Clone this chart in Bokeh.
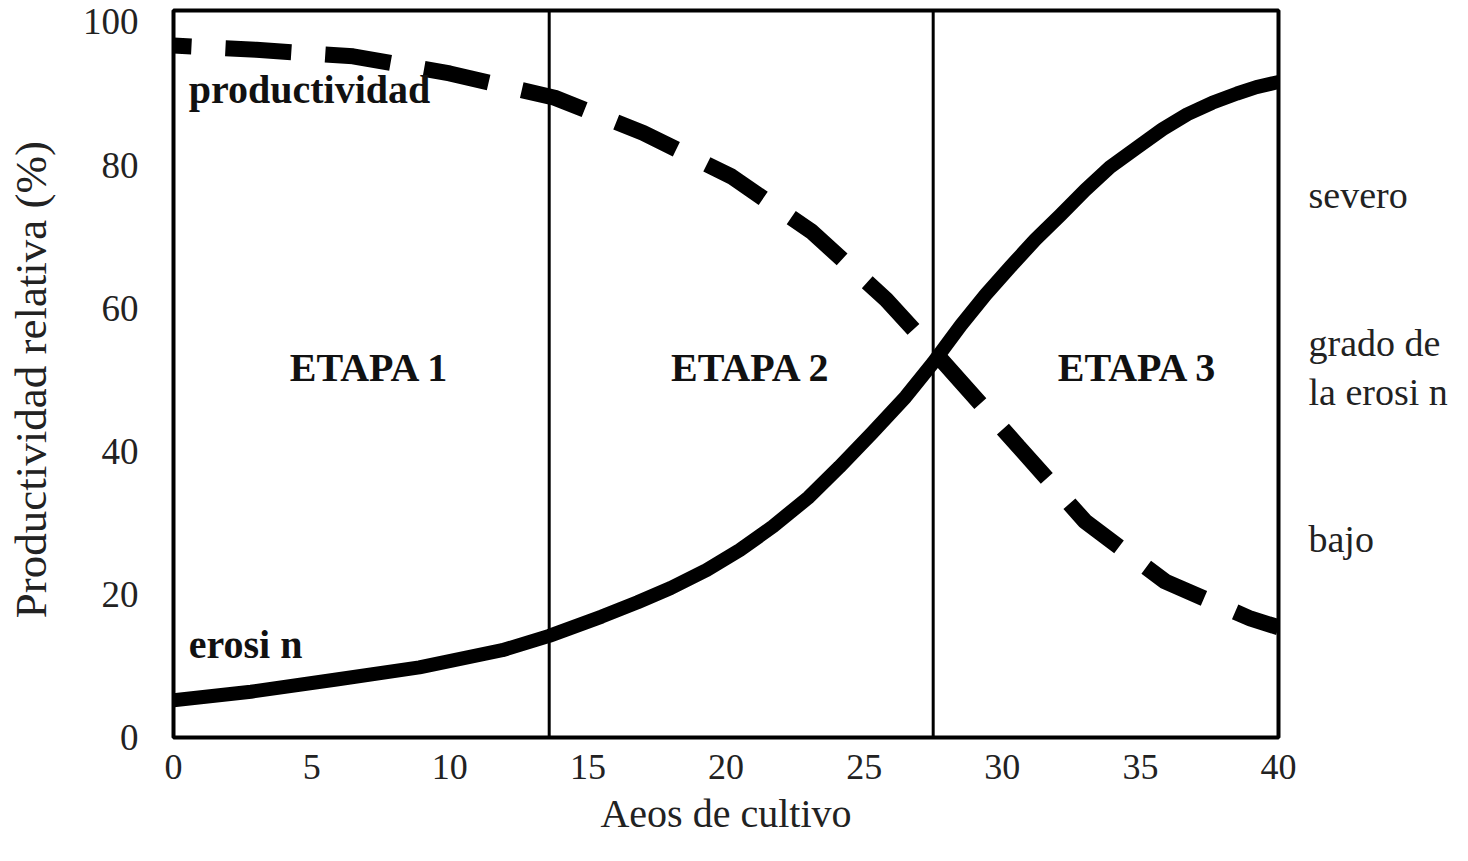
from bokeh.plotting import figure
from bokeh.models import Span, Label, Range1d, FixedTicker, LinearAxis
from bokeh.embed import file_html
from bokeh.resources import INLINE

# ---- data ----
erosion_x = [0, 2.8, 5.9, 8.9, 11.9, 13.6, 15.5, 16.8, 18, 19.3, 20.5, 21.7, 23, 24.1, 25.3, 26.5, 27.5,
             28.5, 29.4, 30.3, 31.2, 32.1, 33, 33.9, 34.9, 35.8, 36.7, 37.6, 38.5, 39.2, 40]
erosion_y = [5.2, 6.4, 8.1, 9.8, 12.2, 14.2, 16.9, 18.9, 20.9, 23.4, 26.2, 29.5, 33.6, 37.8, 42.6, 47.6, 52.4,
             57.6, 61.9, 65.8, 69.6, 73.0, 76.5, 79.7, 82.5, 85.0, 87.1, 88.7, 90.0, 90.9, 91.6]

prod_x = [0, 3, 6.5, 10, 13.8, 17, 20.2, 23.1, 25.8, 27.7, 30.6, 33, 35.9, 39, 40]
prod_y = [96.7, 96.1, 95.2, 92.8, 89.4, 84.5, 78.4, 70.7, 61.2, 53.2, 40.6, 30.2, 21.8, 16.6, 15.4]

stage_bounds = [13.6, 27.5]
stage_names = ["ETAPA 1", "ETAPA 2", "ETAPA 3"]
stage_label_x = [7.1, 20.9, 34.9]
stage_label_y = 51.7

x_ticks = [0, 5, 10, 15, 20, 25, 30, 35, 40]
y_ticks = [0, 20, 40, 60, 80, 100]

right_labels = ["severo", "grado de", "la erosi n", "bajo"]
right_label_y = [75.8, 55.2, 48.3, 27.7]

FONT = "Liberation Serif"

p = figure(width=1452, height=852, output_backend="svg", toolbar_location=None,
           x_range=Range1d(0, 40), y_range=Range1d(0, 101.6),
           min_border_left=173, min_border_top=10, min_border_right=174, min_border_bottom=115)

p.background_fill_color = "white"
p.border_fill_color = "white"
p.outline_line_color = "black"
p.outline_line_width = 4
p.xgrid.visible = False
p.ygrid.visible = False

right_axis = LinearAxis(ticker=FixedTicker(ticks=right_label_y),
                        major_label_overrides={v: t for v, t in zip(right_label_y, right_labels)})
p.add_layout(right_axis, "right")

for ax in (p.xaxis[0], p.yaxis[0], right_axis):
    ax.axis_line_color = None
    ax.major_tick_line_color = None
    ax.minor_tick_line_color = None
    ax.major_tick_out = 0
    ax.major_tick_in = 0
    ax.minor_tick_out = 0
    ax.minor_tick_in = 0
    ax.major_label_text_font = FONT
    ax.major_label_text_font_size = "37px"
    ax.major_label_text_color = "#222222"
    ax.axis_label_text_font = FONT
    ax.axis_label_text_font_size = "45px"
    ax.axis_label_text_font_style = "normal"
    ax.axis_label_text_color = "#222222"

right_axis.major_label_text_font_size = "38px"
right_axis.major_label_standoff = 30

p.xaxis[0].ticker = FixedTicker(ticks=x_ticks)
p.yaxis[0].ticker = FixedTicker(ticks=y_ticks)
p.xaxis[0].major_label_text_font_size = "36px"
p.xaxis[0].major_label_standoff = 17
p.yaxis[0].major_label_standoff = 35
p.xaxis[0].axis_label = "Aeos de cultivo"
p.yaxis[0].axis_label = "Productividad  relativa (%)"
p.xaxis[0].axis_label_text_font_size = "40px"
p.xaxis[0].axis_label_standoff = 9
p.yaxis[0].axis_label_standoff = 24

for b in stage_bounds:
    p.add_layout(Span(location=b, dimension="height", line_color="black", line_width=3))

p.line(erosion_x, erosion_y, line_color="black", line_width=14, line_join="round")
p.line(prod_x, prod_y, line_color="black", line_width=16, line_dash="66 34",
       line_dash_offset=48, line_cap="butt")

for name, lx in zip(stage_names, stage_label_x):
    p.add_layout(Label(x=lx, y=stage_label_y, text=name, text_font=FONT,
                       text_font_size="40px", text_font_style="bold",
                       text_align="center", text_baseline="middle", text_color="#111111"))

p.add_layout(Label(x=0.55, y=90.5, text="productividad", text_font=FONT,
                   text_font_size="40px", text_font_style="bold",
                   text_align="left", text_baseline="middle", text_color="#111111"))
p.add_layout(Label(x=0.55, y=13.0, text="erosi n", text_font=FONT,
                   text_font_size="40px", text_font_style="bold",
                   text_align="left", text_baseline="middle", text_color="#111111"))

open("out.html", "w").write(file_html(p, INLINE))
